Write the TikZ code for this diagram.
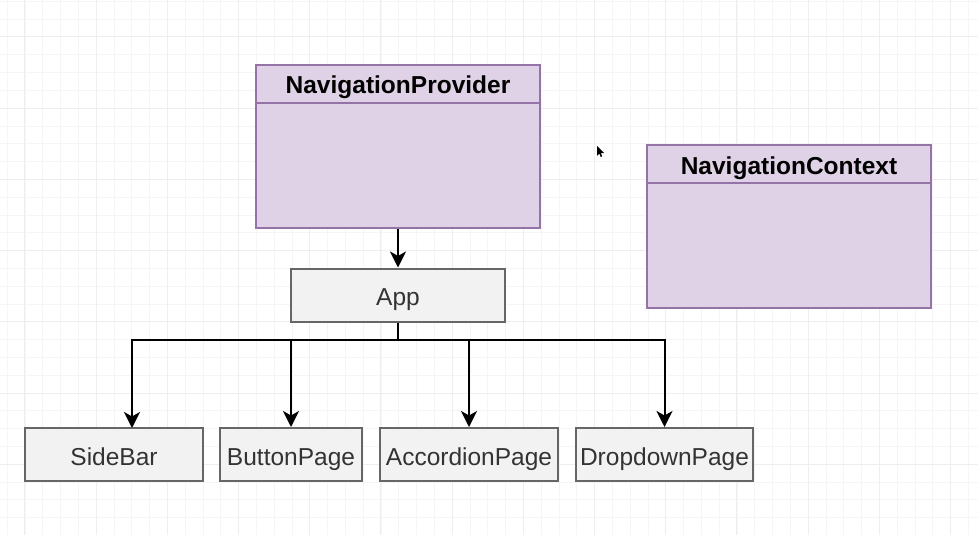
\documentclass[tikz,border=0pt]{standalone}
\usepackage{fontspec}
\setmainfont{Liberation Sans}
\usetikzlibrary{arrows.meta}
\definecolor{gridminor}{HTML}{F5F5F5}
\definecolor{gridmajor}{HTML}{EEEEEE}
\definecolor{purplefill}{HTML}{DFD2E6}
\definecolor{purpledraw}{HTML}{9673A6}
\definecolor{grayfill}{HTML}{F2F2F2}
\definecolor{graydraw}{HTML}{666666}
\definecolor{graytext}{HTML}{333333}
\tikzset{
  x=1pt, y=-1pt,
  lbl/.style={font=\fontsize{24.5}{29}\selectfont, text height=21pt, text depth=0pt},
  graybox/.style={draw=graydraw, fill=grayfill, line width=2pt, inner sep=0pt,
    minimum height=53pt, text=graytext, lbl},
  classbox/.style={draw=purpledraw, fill=purplefill, line width=2pt, inner sep=0pt,
    minimum width=284pt, minimum height=163pt},
  headtext/.style={font=\fontsize{24.5}{29}\selectfont\bfseries, text=black, inner sep=0pt, anchor=base},
  arr/.style={draw=black, line width=2pt, -{Stealth[length=16pt, width=16pt, inset=4.5pt]}},
  wire/.style={draw=black, line width=2pt},
}
\begin{document}
\begin{tikzpicture}
\useasboundingbox (0,0) rectangle (978,535);
\fill[white] (0,0) rectangle (978,535);
% grid
\foreach \i in {0,...,55} {
  \draw[gridminor, line width=1pt] (7.2+17.8*\i,0) -- (7.2+17.8*\i,535);
}
\foreach \j in {0,...,30} {
  \draw[gridminor, line width=1pt] (0,1.4+17.8*\j) -- (978,1.4+17.8*\j);
}
\foreach \i in {0,...,13} {
  \draw[gridmajor, line width=1pt] (24.8+71.2*\i,0) -- (24.8+71.2*\i,535);
}
\foreach \j in {0,...,7} {
  \draw[gridmajor, line width=1pt] (0,37+71.2*\j) -- (978,37+71.2*\j);
}

% class boxes
\node[classbox] (prov) at (398,146.5) {};
\draw[purpledraw, line width=2pt] (prov.north west |- 0,103) -- (prov.north east |- 0,103);
\node[headtext] (provt) at (398,94) {NavigationProvider};

\node[classbox] (ctx) at (789,226) {};
\draw[purpledraw, line width=2pt] (ctx.north west |- 0,183) -- (ctx.north east |- 0,183);
\node[headtext] (ctxt) at (789,174) {NavigationContext};

% gray boxes
\node[graybox, minimum width=214pt] (app) at (398,295) {App};
\node[graybox, minimum width=178pt] (side) at (114,454.5) {SideBar};
\node[graybox, minimum width=142pt] (btn) at (291,454.5) {ButtonPage};
\node[graybox, minimum width=178pt] (acc) at (469,454.5) {AccordionPage};
\node[graybox, minimum width=177pt] (drop) at (664.5,454.5) {DropdownPage};

% connectors
\draw[arr] (prov.south) -- (app.north);
\coordinate (bus) at (398,340);
\coordinate (sidein) at (132,428);
\draw[wire] (app.south) -- (bus);
\draw[arr] (bus) -| (sidein);
\draw[arr] (bus) -| (btn.north);
\draw[arr] (bus) -| (acc.north);
\draw[arr] (bus) -| (drop.north);

% mouse pointer
\fill[black] (597,146) -- (597,156) -- (599.3,153.6) -- (600.8,157) -- (602.2,156.4) -- (600.8,153) -- (604,153) -- cycle;
\end{tikzpicture}
\end{document}
